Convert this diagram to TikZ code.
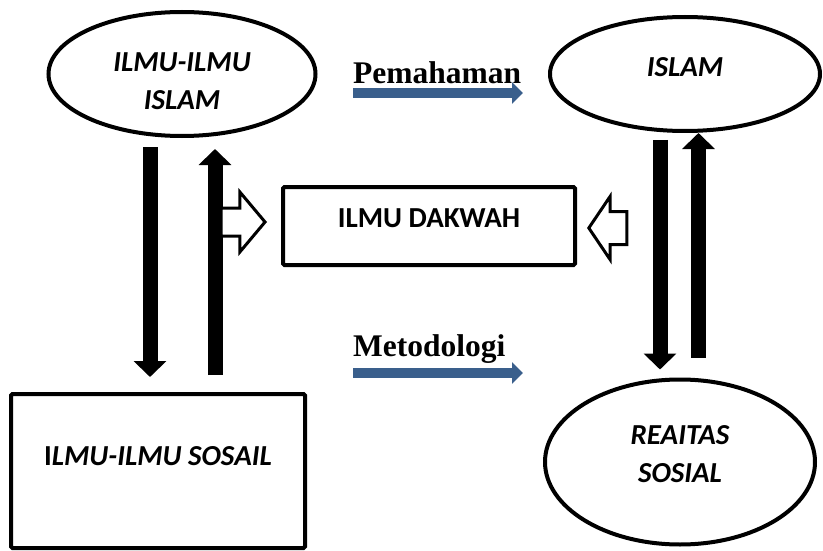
\documentclass[tikz,border=0pt]{standalone}
\usepackage{fontspec}
\setmainfont{Liberation Serif}
\setsansfont{Carlito}
\usetikzlibrary{shapes.geometric,shapes.arrows,arrows.meta}
\definecolor{arrowblue}{RGB}{58,95,140}

\tikzset{
  bubble/.style={ellipse, draw, line width=4pt, inner sep=0pt},
  box/.style={rectangle, draw, line width=4pt, rounded corners=1.5pt, inner sep=0pt},
  bubbletext/.style={font=\sffamily\bfseries\itshape\fontsize{29}{38}\selectfont, align=center},
  boxtext/.style={font=\sffamily\bfseries\fontsize{29}{34}\selectfont, align=center},
  bigarrow/.style={line width=15pt, -{Triangle[length=16pt,width=32pt]}},
  bluearrow/.style={arrowblue, line width=10pt, -{Triangle[length=11pt,width=21pt]}},
  hollow/.style={single arrow, draw, line width=3pt, inner xsep=0pt, fill=white},
  steplabel/.style={font=\rmfamily\bfseries\fontsize{31.5}{31.5}\selectfont, anchor=base west, inner sep=0pt}
}

\begin{document}
\begin{tikzpicture}[x=1pt,y=-1pt]
\useasboundingbox (0,0) rectangle (823,551);

\node (ilmuislam) at (182,74) [bubble, minimum width=267pt, minimum height=124pt,
  label={[bubbletext, yshift=-7pt]center:ILMU-ILMU\\ISLAM}] {};
\node (islam) at (685,74) [bubble, minimum width=270pt, minimum height=114pt,
  label={[bubbletext, yshift=7pt]center:ISLAM}] {};
\node (dakwah) at (429,226) [box, minimum width=292pt, minimum height=78pt,
  label={[boxtext, yshift=8pt]center:ILMU DAKWAH}] {};
\node (sosial) at (158,471) [box, minimum width=294pt, minimum height=154pt,
  label={[boxtext, yshift=15pt]center:I{\itshape LMU-ILMU SOSAIL}}] {};
\node (realitas) at (680,462) [bubble, minimum width=270pt, minimum height=165pt,
  label={[bubbletext, yshift=8pt]center:REAITAS\\SOSIAL}] {};

% turun naik kiri
\draw [bigarrow] ([xshift=-32pt,yshift=-9pt]ilmuislam.south) -- ([xshift=-8pt,yshift=15pt]sosial.north);
\draw [bigarrow] ([xshift=57pt,yshift=17pt]sosial.north) -- ([xshift=33pt,yshift=-11pt]ilmuislam.south);

% turun naik kanan
\draw [bigarrow] ([xshift=-25pt,yshift=-7pt]islam.south) -- ([xshift=-20pt,yshift=8pt]realitas.north);
\draw [bigarrow] ([xshift=18.5pt,yshift=20pt]realitas.north) -- ([xshift=13.5pt]islam.south);

\node (hollowleft) [hollow, anchor=tip, inner ysep=12.5pt, minimum height=44pt,
  single arrow head extend=16pt, single arrow tip angle=100] at ([xshift=-14pt,yshift=4pt]dakwah.west) {};
\node (hollowright) [hollow, anchor=tip, shape border rotate=180, inner ysep=15pt, minimum height=38pt,
  single arrow head extend=15pt, single arrow tip angle=112] at ([xshift=10pt,yshift=-2pt]dakwah.east) {};

\coordinate (pemfrom) at (353,93);
\coordinate (pemto) at (523,93);
\draw [bluearrow] (pemfrom) -- (pemto);
\node (pemahaman) [steplabel] at (353,84) {Pemahaman};

\coordinate (metfrom) at (353,373);
\coordinate (metto) at (523,373);
\draw [bluearrow] (metfrom) -- (metto);
\node (metodologi) [steplabel] at (353,356) {Metodologi};

\end{tikzpicture}
\end{document}
